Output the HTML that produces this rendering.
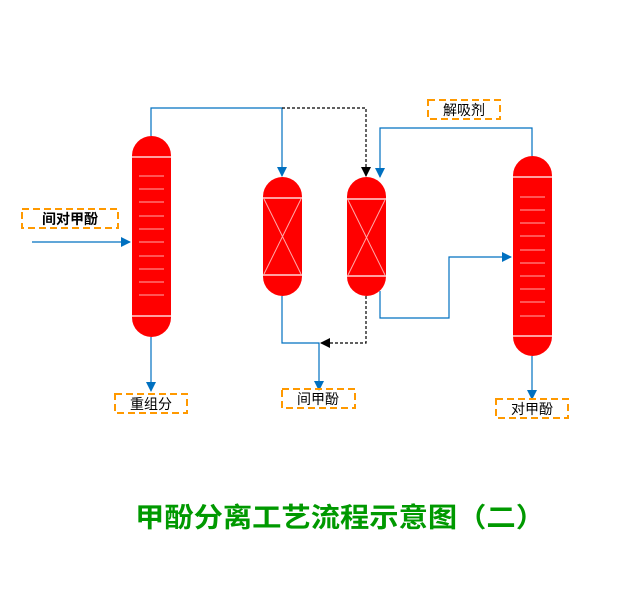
<!DOCTYPE html>
<html><head><meta charset="utf-8"><style>
html,body{margin:0;padding:0;background:#fff;}
svg{display:block;}
text{font-family:"Liberation Sans","Noto Sans CJK SC","WenQuanYi Zen Hei",sans-serif;}
</style></head><body>
<svg width="643" height="599" viewBox="0 0 643 599" xmlns="http://www.w3.org/2000/svg">
<defs>
<marker id="ab" markerWidth="10" markerHeight="10" refX="9" refY="5" orient="auto" markerUnits="userSpaceOnUse"><path d="M0,0 L10,5 L0,10 z" fill="#0070c0"/></marker>
<marker id="ak" markerWidth="10" markerHeight="10" refX="9" refY="5" orient="auto" markerUnits="userSpaceOnUse"><path d="M0,0 L10,5 L0,10 z" fill="#000"/></marker>
</defs>
<g fill="none" stroke-width="1.2">
<polyline points="151,136 151,108 282,108 282,176" stroke="#0070c0" marker-end="url(#ab)"/>
<polyline points="282,108 366,108 366,176" stroke="#000" stroke-dasharray="3,2" marker-end="url(#ak)"/>
<line x1="32" y1="242" x2="130" y2="242" stroke="#0070c0" marker-end="url(#ab)"/>
<line x1="151" y1="337" x2="151" y2="391" stroke="#0070c0" marker-end="url(#ab)"/>
<polyline points="282,296 282,343 319,343 319,390" stroke="#0070c0" marker-end="url(#ab)"/>
<polyline points="366,296 366,343 321,343" stroke="#000" stroke-dasharray="3,2" marker-end="url(#ak)"/>
<polyline points="380,291 380,318 449,318 449,257 511,257" stroke="#0070c0" marker-end="url(#ab)"/>
<polyline points="532,156 532,128 380,128 380,177" stroke="#0070c0" marker-end="url(#ab)"/>
<line x1="532" y1="356" x2="532" y2="399" stroke="#0070c0" marker-end="url(#ab)"/>
</g>
<!-- column 1 -->
<rect x="132" y="136" width="39" height="201" rx="19.5" fill="#ff0000"/>
<g stroke="#fff" stroke-width="1.2"><line x1="132" y1="157" x2="171" y2="157"/><line x1="132" y1="316" x2="171" y2="316"/></g>
<g stroke="#ffaaaa" stroke-width="1">
<line x1="139" y1="176" x2="164" y2="176"/><line x1="139" y1="189" x2="164" y2="189"/><line x1="139" y1="202" x2="164" y2="202"/><line x1="139" y1="216" x2="164" y2="216"/><line x1="139" y1="229" x2="164" y2="229"/><line x1="139" y1="242" x2="164" y2="242"/><line x1="139" y1="256" x2="164" y2="256"/><line x1="139" y1="269" x2="164" y2="269"/><line x1="139" y1="282" x2="164" y2="282"/><line x1="139" y1="295" x2="164" y2="295"/>
</g>
<!-- reactor 1 -->
<rect x="263" y="177" width="39" height="119" rx="19.5" fill="#ff0000"/>
<g stroke="#fff" stroke-width="1.2"><line x1="263" y1="198" x2="302" y2="198"/><line x1="263" y1="275" x2="302" y2="275"/></g>
<g stroke="#ffaaaa" stroke-width="1"><line x1="264" y1="199" x2="301" y2="274"/><line x1="301" y1="199" x2="264" y2="274"/></g>
<!-- reactor 2 -->
<rect x="347" y="177" width="39" height="119" rx="19.5" fill="#ff0000"/>
<g stroke="#fff" stroke-width="1.2"><line x1="347" y1="199" x2="386" y2="199"/><line x1="347" y1="276" x2="386" y2="276"/></g>
<g stroke="#ffaaaa" stroke-width="1"><line x1="348" y1="200" x2="385" y2="275"/><line x1="385" y1="200" x2="348" y2="275"/></g>
<!-- column 2 -->
<rect x="513" y="156" width="39" height="200" rx="19.5" fill="#ff0000"/>
<g stroke="#fff" stroke-width="1.2"><line x1="513" y1="177" x2="552" y2="177"/><line x1="513" y1="336" x2="552" y2="336"/></g>
<g stroke="#ffaaaa" stroke-width="1">
<line x1="520" y1="197" x2="545" y2="197"/><line x1="520" y1="210" x2="545" y2="210"/><line x1="520" y1="223" x2="545" y2="223"/><line x1="520" y1="236" x2="545" y2="236"/><line x1="520" y1="250" x2="545" y2="250"/><line x1="520" y1="263" x2="545" y2="263"/><line x1="520" y1="276" x2="545" y2="276"/><line x1="520" y1="289" x2="545" y2="289"/><line x1="520" y1="302" x2="545" y2="302"/><line x1="520" y1="316" x2="545" y2="316"/>
</g>
<!-- labels -->
<g fill="none" stroke="#ff9900" stroke-width="2" stroke-dasharray="7,4">
<rect x="22" y="209" width="96" height="19"/>
<rect x="115" y="394" width="72" height="19"/>
<rect x="282" y="389" width="73" height="19"/>
<rect x="428" y="100" width="72" height="19"/>
<rect x="496" y="399" width="72" height="19"/>
</g>
<g font-size="14" fill="#000" text-anchor="middle">
<text x="70" y="224" font-weight="bold">间对甲酚</text>
<text x="151" y="409">重组分</text>
<text x="318" y="404">间甲酚</text>
<text x="464" y="115">解吸剂</text>
<text x="532" y="414">对甲酚</text>
</g>
<text x="135" y="527" font-size="27" font-weight="bold" fill="#009900" textLength="410" lengthAdjust="spacingAndGlyphs">甲酚分离工艺流程示意图（二）</text>
</svg>
</body></html>
